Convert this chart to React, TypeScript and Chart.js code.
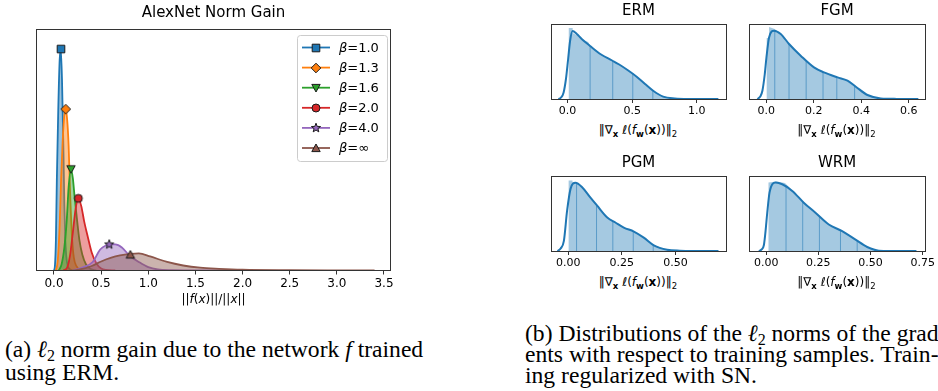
import React, { useEffect, useRef } from "react";
import { Chart, registerables } from "chart.js";
Chart.register(...registerables);

const FONT = '"DejaVu Sans", sans-serif';

// ---------- Panel (a): AlexNet norm gain ----------
const betaLabels = ["1.0", "1.3", "1.6", "2.0", "4.0", "∞"];
const betaColors = ["#1f77b4", "#ff7f0e", "#2ca02c", "#d62728", "#9467bd", "#8c564b"];
const betaMarkers = ["square", "diamond", "triangleDown", "circle", "star", "triangleUp"];

const beta10X = [0.0, 0.01, 0.02, 0.03, 0.045, 0.06, 0.072, 0.085, 0.1, 0.11, 0.12, 0.135, 0.16, 0.2];
const beta10Y = [0, 0.5, 3, 9, 16, 21, 22.1, 19, 12, 6.5, 3, 1, 0.2, 0];
const beta13X = [0.02, 0.04, 0.06, 0.075, 0.09, 0.105, 0.124, 0.14, 0.155, 0.17, 0.19, 0.21, 0.24, 0.28];
const beta13Y = [0, 1, 4.5, 9, 12.5, 15, 16.1, 15, 12.5, 8, 3.5, 1.3, 0.4, 0];
const beta16X = [0.05, 0.08, 0.11, 0.135, 0.155, 0.18, 0.2, 0.22, 0.245, 0.27, 0.3, 0.34, 0.38, 0.45];
const beta16Y = [0, 0.6, 2.3, 5, 8.3, 10.1, 9.2, 7.2, 5, 3, 1.6, 0.6, 0.2, 0];
const beta20X = [0.1, 0.14, 0.17, 0.2, 0.23, 0.258, 0.29, 0.32, 0.36, 0.4, 0.45, 0.5, 0.55, 0.65];
const beta20Y = [0, 0.3, 1.5, 3.8, 6.2, 7.2, 6.4, 4.9, 3.3, 1.8, 0.7, 0.2, 0.05, 0];
const beta40X = [0.2, 0.3, 0.41, 0.49, 0.55, 0.6, 0.65, 0.72, 0.8, 0.9, 1.0, 1.1, 1.25, 1.5, 1.9];
const beta40Y = [0, 0.3, 0.85, 2.1, 2.5, 2.6, 2.6, 2.3, 1.5, 0.85, 0.33, 0.1, 0.03, 0.01, 0];
const betaInfX = [0.2, 0.3, 0.4, 0.5, 0.6, 0.7, 0.81, 0.9, 1.02, 1.2, 1.37, 1.55, 1.75, 2.0, 2.5, 3.0, 3.4];
const betaInfY = [0, 0.15, 0.45, 0.9, 1.25, 1.5, 1.65, 1.7, 1.4, 0.85, 0.5, 0.28, 0.17, 0.08, 0.03, 0.01, 0];

const peakX = [0.074, 0.124, 0.18, 0.258, 0.586, 0.81];
const peakY = [22.1, 16.1, 10.1, 7.2, 2.6, 1.6];
const gainTicks = [0, 0.5, 1.0, 1.5, 2.0, 2.5, 3.0, 3.5];

// ---------- Panel (b): gradient norm distributions ----------
const ermX = [-0.07, -0.05, -0.03, -0.012, 0.005, 0.02, 0.039, 0.072, 0.11, 0.175, 0.26, 0.345, 0.4, 0.47, 0.535, 0.6, 0.665, 0.74, 0.83, 0.95, 1.167];
const ermY = [0, 1.5, 6.6, 20, 40, 58, 68, 65, 60, 53, 44.5, 38.5, 34.5, 28.5, 22.3, 15, 8, 2.4, 0.6, 0.1, 0];
const ermHistX = [0.008, 0.008, 0.04, 0.04, 0.1, 0.12, 0.16, 0.175, 0.26, 0.345, 0.4, 0.47, 0.535, 0.6, 0.665, 0.74, 0.83, 0.95, 1.15];
const ermHistY = [0, 71, 71, 66, 62, 59, 57, 53, 44.5, 38.5, 34.5, 28.5, 22.3, 15, 8, 2.4, 0.6, 0.1, 0];
const ermEdgeX = [0.175, 0.35, 0.505, 0.66];
const ermEdgeY = [53, 38, 26, 8.4];
const ermTicks = [0, 0.5, 1.0];

const fgmX = [-0.037, -0.025, -0.016, -0.006, 0.001, 0.012, 0.033, 0.061, 0.096, 0.145, 0.201, 0.243, 0.3, 0.342, 0.377, 0.426, 0.482, 0.55, 0.64];
const fgmY = [0, 2.5, 8.3, 25, 41.6, 61.6, 68.3, 65, 55, 43.3, 31.6, 26.6, 21.6, 18.3, 12.3, 4, 0.6, 0.1, 0];
const fgmHistX = [0.001, 0.001, 0.012, 0.012, 0.036, 0.061, 0.096, 0.145, 0.201, 0.243, 0.3, 0.342, 0.377, 0.426, 0.482, 0.55, 0.62];
const fgmHistY = [0, 61, 61, 72, 70, 65, 55, 43.3, 31.6, 26.6, 21.6, 18.3, 12.3, 4, 0.6, 0.1, 0];
const fgmEdgeX = [0.036, 0.096, 0.168, 0.239, 0.297, 0.372];
const fgmEdgeY = [68, 55, 39, 27, 22, 13];
const fgmTicks = [0, 0.2, 0.4, 0.6];

const pgmX = [-0.05, -0.035, -0.02, -0.005, 0.011, 0.034, 0.065, 0.1, 0.135, 0.182, 0.22, 0.259, 0.306, 0.352, 0.399, 0.461, 0.52, 0.6, 0.7];
const pgmY = [0, 2.5, 10, 40, 61.7, 67.7, 63.3, 54, 45, 33.3, 28.3, 23.3, 19.3, 13.3, 5.7, 1.3, 0.3, 0.05, 0];
const pgmHistX = [0.001, 0.001, 0.02, 0.02, 0.039, 0.065, 0.1, 0.135, 0.182, 0.22, 0.259, 0.306, 0.352, 0.399, 0.461, 0.52, 0.6, 0.7];
const pgmHistY = [0, 70, 70, 68.3, 67.5, 63.3, 54, 45, 33.3, 28.3, 23.3, 19.3, 13.3, 5.7, 1.3, 0.3, 0.05, 0];
const pgmEdgeX = [0.039, 0.132, 0.208, 0.303, 0.396];
const pgmEdgeY = [67, 45.5, 30, 19.5, 6];
const pgmTicks = [0, 0.25, 0.5];

const wrmX = [-0.035, -0.022, -0.011, -0.003, 0.005, 0.016, 0.045, 0.077, 0.125, 0.18, 0.236, 0.3, 0.364, 0.428, 0.484, 0.54, 0.6, 0.72];
const wrmY = [0, 1.5, 6, 20, 38, 58, 68, 66.3, 59.7, 48, 38, 26.3, 19.7, 11.3, 4, 0.3, 0.1, 0];
const wrmHistX = [0.01, 0.01, 0.05, 0.09, 0.125, 0.18, 0.236, 0.3, 0.364, 0.428, 0.484, 0.54, 0.6, 0.7];
const wrmHistY = [0, 68, 69, 67.5, 60, 48, 38, 26.3, 19.7, 11.3, 4, 0.3, 0.1, 0];
const wrmEdgeX = [0.095, 0.175, 0.255, 0.356, 0.436];
const wrmEdgeY = [65, 49, 35, 20.5, 10];
const wrmTicks = [0, 0.25, 0.5, 0.75];

type Panel = {
  title: string; kx: number[]; ky: number[]; hx: number[]; hy: number[];
  ex: number[]; ey: number[]; ticks: number[]; dec: number;
  min: number; max: number; ymax: number; area: number[];
};

const panels: Panel[] = [
  { title: "ERM", kx: ermX, ky: ermY, hx: ermHistX, hy: ermHistY, ex: ermEdgeX, ey: ermEdgeY, ticks: ermTicks, dec: 1, min: -0.1276, max: 1.226, ymax: 75, area: [550.5, 23.5, 725.5, 98.5] },
  { title: "FGM", kx: fgmX, ky: fgmY, hx: fgmHistX, hy: fgmHistY, ex: fgmEdgeX, ey: fgmEdgeY, ticks: fgmTicks, dec: 1, min: -0.0724, max: 0.668, ymax: 75, area: [748.5, 23.5, 924.5, 98.5] },
  { title: "PGM", kx: pgmX, ky: pgmY, hx: pgmHistX, hy: pgmHistY, ex: pgmEdgeX, ey: pgmEdgeY, ticks: pgmTicks, dec: 2, min: -0.080, max: 0.735, ymax: 74.5, area: [550.5, 175.5, 725.5, 250.5] },
  { title: "WRM", kx: wrmX, ky: wrmY, hx: wrmHistX, hy: wrmHistY, ex: wrmEdgeX, ey: wrmEdgeY, ticks: wrmTicks, dec: 2, min: -0.0824, max: 0.761, ymax: 74.5, area: [748.5, 175.5, 924.5, 250.5] },
];

function hexA(hex: string, a: number) {
  const n = parseInt(hex.slice(1), 16);
  return `rgba(${n >> 16},${(n >> 8) & 255},${n & 255},${a})`;
}

function markerPath(g: CanvasRenderingContext2D, kind: string, cx: number, cy: number) {
  g.beginPath();
  if (kind === "square") g.rect(cx - 3.8, cy - 3.8, 7.6, 7.6);
  else if (kind === "diamond") { g.moveTo(cx, cy - 4.8); g.lineTo(cx + 4.8, cy); g.lineTo(cx, cy + 4.8); g.lineTo(cx - 4.8, cy); g.closePath(); }
  else if (kind === "triangleDown") { g.moveTo(cx, cy + 4); g.lineTo(cx - 4.2, cy - 3.6); g.lineTo(cx + 4.2, cy - 3.6); g.closePath(); }
  else if (kind === "triangleUp") { g.moveTo(cx, cy - 4); g.lineTo(cx - 4.2, cy + 3.6); g.lineTo(cx + 4.2, cy + 3.6); g.closePath(); }
  else if (kind === "circle") g.arc(cx, cy, 4, 0, Math.PI * 2);
  else if (kind === "star") {
    for (let k = 0; k < 10; k++) {
      const r = k % 2 === 0 ? 4.8 : 2.0;
      const a = -Math.PI / 2 + (k * Math.PI) / 5;
      const px = cx + r * Math.cos(a), py = cy + r * Math.sin(a);
      if (k === 0) g.moveTo(px, py); else g.lineTo(px, py);
    }
    g.closePath();
  }
}

function makeMarker(kind: string, color: string) {
  const c = document.createElement("canvas");
  c.width = 14; c.height = 14;
  const g = c.getContext("2d")!;
  markerPath(g, kind, 7, 7);
  g.fillStyle = color; g.fill();
  g.lineWidth = 1; g.strokeStyle = "#1a1a1a"; g.stroke();
  return c;
}

const framePlugin = {
  id: "frame",
  afterDatasetsDraw(chart: any) {
    const { ctx, chartArea: a } = chart;
    ctx.save();
    ctx.strokeStyle = "#333";
    ctx.lineWidth = 1;
    ctx.strokeRect(Math.floor(a.left) + 0.5, Math.floor(a.top) + 0.5, Math.round(a.right - a.left), Math.round(a.bottom - a.top));
    ctx.restore();
  },
};

function buildLeft(canvas: HTMLCanvasElement) {
  const xs = [beta10X, beta13X, beta16X, beta20X, beta40X, betaInfX];
  const ys = [beta10Y, beta13Y, beta16Y, beta20Y, beta40Y, betaInfY];
  const marks = betaMarkers.map((m, i) => makeMarker(m, betaColors[i]));
  const datasets: any[] = [];
  xs.forEach((x, i) => {
    datasets.push({
      type: "line",
      data: x.map((v, j) => ({ x: v, y: ys[i][j] })),
      borderColor: betaColors[i],
      borderWidth: 1.8,
      pointRadius: 0,
      fill: "origin",
      backgroundColor: hexA(betaColors[i], 0.45),
      cubicInterpolationMode: "monotone",
      order: 100 - i,
    });
  });
  peakX.forEach((x, i) => {
    datasets.push({
      type: "line",
      showLine: false,
      data: [{ x, y: peakY[i] }],
      pointStyle: marks[i],
      pointRadius: 5,
      order: 50 - i,
    });
  });
  const legendPlugin = {
    id: "betaLegend",
    afterDatasetsDraw(chart: any) {
      const ctx = chart.ctx;
      ctx.save();
      const bx = 297.5, by = 35.5, bw = 90, bh = 126, r = 3;
      ctx.beginPath();
      ctx.moveTo(bx + r, by); ctx.lineTo(bx + bw - r, by); ctx.arcTo(bx + bw, by, bx + bw, by + r, r);
      ctx.lineTo(bx + bw, by + bh - r); ctx.arcTo(bx + bw, by + bh, bx + bw - r, by + bh, r);
      ctx.lineTo(bx + r, by + bh); ctx.arcTo(bx, by + bh, bx, by + bh - r, r);
      ctx.lineTo(bx, by + r); ctx.arcTo(bx, by, bx + r, by, r); ctx.closePath();
      ctx.fillStyle = "rgba(255,255,255,0.8)"; ctx.fill();
      ctx.strokeStyle = "#cccccc"; ctx.lineWidth = 1; ctx.stroke();
      betaLabels.forEach((lab, i) => {
        const y = 47.5 + 20.1 * i;
        ctx.strokeStyle = betaColors[i]; ctx.lineWidth = 1.8;
        ctx.beginPath(); ctx.moveTo(302, y); ctx.lineTo(330, y); ctx.stroke();
        ctx.drawImage(marks[i], 316 - 7, Math.round(y) - 7);
        ctx.fillStyle = "#000"; ctx.textBaseline = "middle"; ctx.textAlign = "left";
        ctx.font = `italic 13px ${FONT}`;
        ctx.fillText("β", 339, y + 1);
        const w = ctx.measureText("β").width;
        ctx.font = `13px ${FONT}`;
        ctx.fillText("=" + lab, 339 + w, y + 1);
      });
      ctx.restore();
    },
  };
  return new Chart(canvas, {
    type: "line",
    data: { datasets },
    plugins: [framePlugin, legendPlugin],
    options: {
      animation: false,
      responsive: false,
      maintainAspectRatio: false,
      layout: { padding: { left: 36.5, right: 9.5, top: 0, bottom: 19.5 } },
      plugins: {
        legend: { display: false },
        tooltip: { enabled: false },
        title: {
          display: true, text: "AlexNet Norm Gain", color: "#000",
          font: { family: FONT, size: 15, weight: "normal", lineHeight: 1.2 },
          padding: { top: 4, bottom: 7.5 },
        },
      },
      scales: {
        x: {
          type: "linear", min: -0.1856, max: 3.569,
          afterBuildTicks: (s: any) => { s.ticks = gainTicks.map((v) => ({ value: v })); },
          afterFit: (s: any) => { s.height = 20; },
          grid: { display: true, drawOnChartArea: false, drawTicks: true, tickLength: 4, color: "#333", tickColor: "#333" },
          border: { display: false },
          ticks: { callback: (v: any) => Number(v).toFixed(1), font: { family: FONT, size: 12 }, color: "#000", padding: 2, maxRotation: 0, autoSkip: false },
        },
        y: { display: false, min: 0, max: 24.05 },
      },
    } as any,
  });
}

function buildSmall(canvas: HTMLCanvasElement, p: Panel) {
  const edgeData: any[] = [];
  p.ex.forEach((x, i) => { edgeData.push({ x, y: 0 }, { x, y: p.ey[i] }, { x, y: null }); });
  return new Chart(canvas, {
    type: "line",
    data: {
      datasets: [
        { type: "line", data: p.kx.map((v, j) => ({ x: v, y: p.ky[j] })), borderColor: "#1f77b4", borderWidth: 2, pointRadius: 0, fill: false, cubicInterpolationMode: "monotone", order: 0 },
        { type: "line", data: edgeData, borderColor: "rgba(31,119,180,0.55)", borderWidth: 1, pointRadius: 0, fill: false, spanGaps: false, order: 1 },
        { type: "line", data: p.hx.map((v, j) => ({ x: v, y: p.hy[j] })), borderColor: "rgba(0,0,0,0)", borderWidth: 0, pointRadius: 0, fill: "origin", backgroundColor: "rgba(31,119,180,0.4)", tension: 0, order: 2 },
      ],
    },
    plugins: [framePlugin],
    options: {
      animation: false,
      responsive: false,
      maintainAspectRatio: false,
      layout: { padding: { left: 40, right: 16, top: 0, bottom: 4 } },
      plugins: {
        legend: { display: false },
        tooltip: { enabled: false },
        title: {
          display: true, text: p.title, color: "#000",
          font: { family: FONT, size: 15, weight: "normal", lineHeight: 1.2 },
          padding: { top: 2.5, bottom: 3.5 },
        },
      },
      scales: {
        x: {
          type: "linear", min: p.min, max: p.max,
          afterBuildTicks: (s: any) => { s.ticks = p.ticks.map((v) => ({ value: v })); },
          afterFit: (s: any) => { s.height = 18; },
          grid: { display: true, drawOnChartArea: false, drawTicks: true, tickLength: 4, color: "#333", tickColor: "#333" },
          border: { display: false },
          ticks: { callback: (v: any) => Number(v).toFixed(p.dec), font: { family: FONT, size: 11 }, color: "#000", padding: 2, maxRotation: 0, autoSkip: false },
        },
        y: { display: false, min: 0, max: p.ymax },
      },
    } as any,
  });
}

const subB: React.CSSProperties = { fontSize: "8.5px", fontWeight: "bold", verticalAlign: "-3px", lineHeight: 0 };
const sub: React.CSSProperties = { fontSize: "8.5px", verticalAlign: "-3px", lineHeight: 0 };

function GradLabel({ cx, cy }: { cx: number; cy: number }) {
  return (
    <div style={{ position: "absolute", left: cx, top: cy, transform: "translate(-50%,-50%)", fontFamily: FONT, fontSize: "12px", whiteSpace: "nowrap", color: "#000", lineHeight: "14px" }}>
      ‖∇<span style={subB}>x</span> <i>ℓ</i>(<i>f</i><span style={subB}>w</span>(<b>x</b>))‖<span style={sub}>2</span>
    </div>
  );
}

const capSub: React.CSSProperties = { fontSize: "16px", verticalAlign: "-4px", lineHeight: 0 };

export default function App() {
  const leftRef = useRef<HTMLCanvasElement>(null);
  const r0 = useRef<HTMLCanvasElement>(null);
  const r1 = useRef<HTMLCanvasElement>(null);
  const r2 = useRef<HTMLCanvasElement>(null);
  const r3 = useRef<HTMLCanvasElement>(null);
  const smallRefs = [r0, r1, r2, r3];

  useEffect(() => {
    const charts: Chart[] = [];
    charts.push(buildLeft(leftRef.current!));
    panels.forEach((p, i) => charts.push(buildSmall(smallRefs[i].current!, p)));
    return () => charts.forEach((c) => c.destroy());
  }, []);

  return (
    <div style={{ position: "fixed", left: 0, top: 0, width: 938, height: 391, overflow: "hidden", background: "#fff" }}>
      <canvas ref={leftRef} width={400} height={310} style={{ position: "absolute", left: 0, top: 0, width: 400, height: 310 }} />
      {panels.map((p, i) => {
        const [l, t, r, b] = p.area;
        const w = r - l + 56, h = b - t + 46;
        return (
          <canvas key={p.title} ref={smallRefs[i]} width={w} height={h}
            style={{ position: "absolute", left: l - 40, top: t - 24, width: w, height: h }} />
        );
      })}
      <div style={{ position: "absolute", left: 213.5, top: 299, transform: "translate(-50%,-50%)", fontFamily: FONT, fontSize: "12px", whiteSpace: "nowrap", color: "#000" }}>
        ||<i>f</i>(<i>x</i>)||/||<i>x</i>||
      </div>
      {panels.map((p) => (
        <GradLabel key={"lab" + p.title} cx={(p.area[0] + p.area[2]) / 2} cy={p.area[3] + 31} />
      ))}
      <div style={{ position: "absolute", left: 5, top: 338, fontFamily: '"Liberation Serif", serif', fontSize: "23.6px", lineHeight: "23px", whiteSpace: "nowrap", color: "#000" }}>
        (a) <i>ℓ</i><span style={capSub}>2</span> norm gain due to the network <i>f</i> trained<br />using ERM.
      </div>
      <div style={{ position: "absolute", left: 525, top: 322.5, fontFamily: '"Liberation Serif", serif', fontSize: "23.6px", lineHeight: "21px", whiteSpace: "nowrap", color: "#000" }}>
        (b) Distributions of the <i>ℓ</i><span style={capSub}>2</span> norms of the gradi-<br />ents with respect to training samples. Train-<br />ing regularized with SN.
      </div>
    </div>
  );
}
